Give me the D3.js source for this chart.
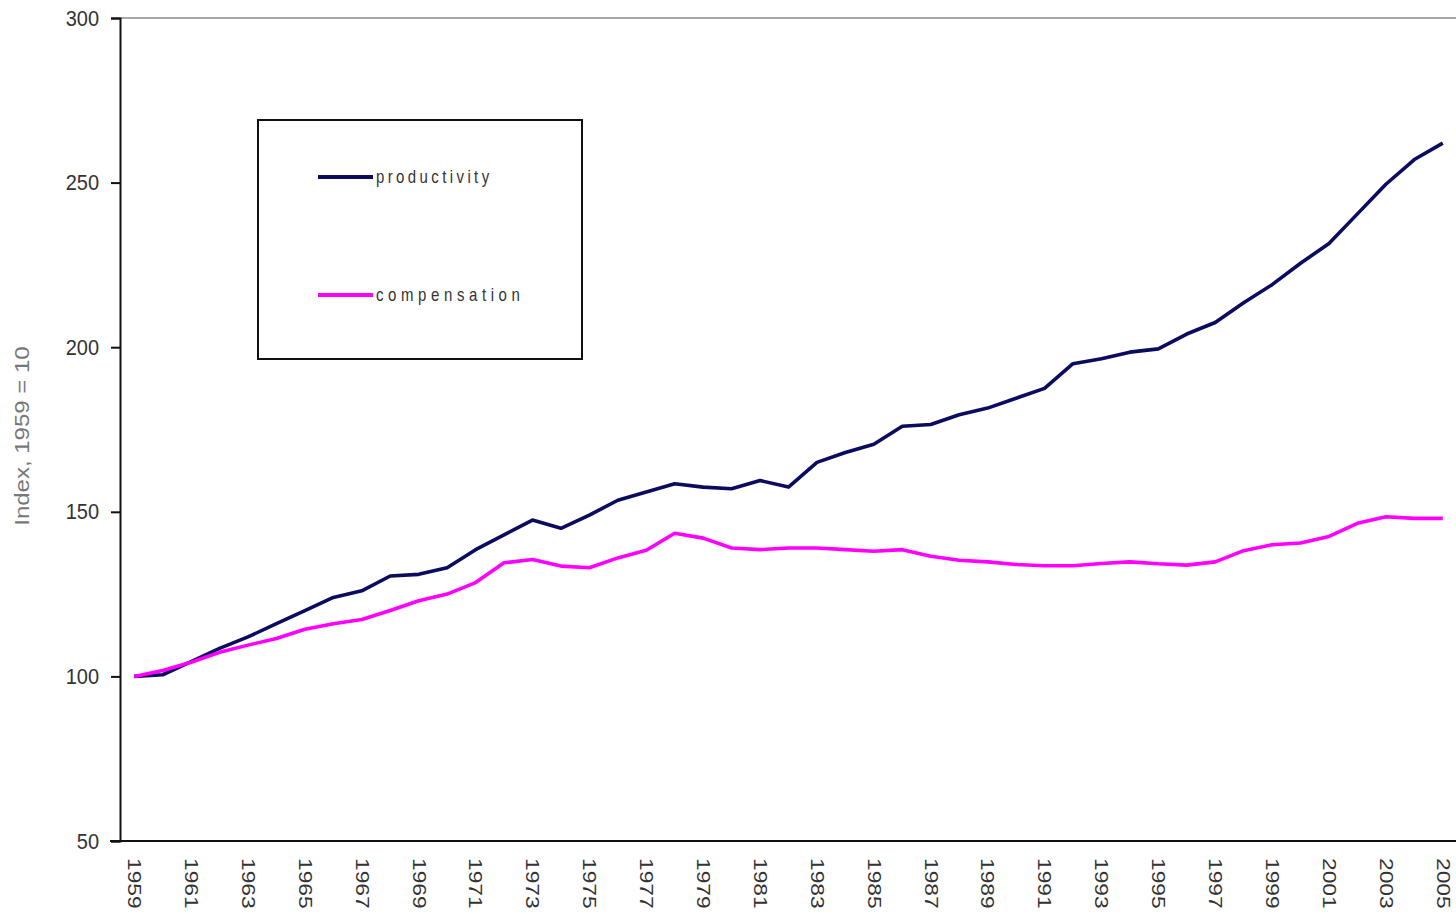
<!DOCTYPE html>
<html>
<head>
<meta charset="utf-8">
<script src="https://cdn.jsdelivr.net/npm/d3@7"></script>
<style>
    body { margin: 0; background: #fff; }
    svg { display: block; font-family: "Liberation Sans", Arial, sans-serif; }
</style>
</head>
<body>
<svg id="chart"></svg>
<script>
// Data
const years = d3.range(1959, 2006);

const productivity = [
    100, 100.5, 104.5, 108.5, 112, 116, 120, 124, 126, 130.5,
    131, 133, 138.5, 143, 147.5, 145, 149, 153.5, 156, 158.5,
    157.5, 157, 159.5, 157.5, 165, 168, 170.5, 176, 176.5, 179.5,
    181.5, 184.5, 187.5, 195, 196.5, 198.5, 199.5, 204, 207.5, 213.5,
    219, 225.5, 231.5, 240.5, 249.5, 257, 262
];

const compensation = [
    100, 101.8, 104.3, 107.3, 109.5, 111.5, 114.3, 116, 117.3, 120,
    123, 125, 128.5, 134.5, 135.5, 133.5, 133, 136, 138.3, 143.5,
    142, 139, 138.5, 139, 139, 138.5, 138, 138.5, 136.5, 135.3,
    134.8, 134, 133.6, 133.6, 134.3, 134.8, 134.2, 133.8, 134.8, 138.2,
    140, 140.5, 142.5, 146.5, 148.5, 148, 148
];

const yTicks = [50, 100, 150, 200, 250, 300];
const xTickYears = years.filter(y => y % 2 === 1);

const seriesNames = ['productivity', 'compensation'];
const seriesColors = ['#0b0b60', '#ff00ff'];

// Layout
const width = 1456;
const height = 914;
const margin = { top: 18, right: -1, bottom: 73, left: 120 };
const innerW = width - margin.left - margin.right;
const innerH = height - margin.top - margin.bottom;
const stretch = 1.2; // text in the reference is a bit taller than wide

const svg = d3.select('#chart')
    .attr('width', width)
    .attr('height', height);

const g = svg.append('g')
    .attr('transform', `translate(${margin.left},${margin.top})`);

const x = d3.scalePoint()
    .domain(years)
    .range([0, innerW])
    .padding(0.5);

const y = d3.scaleLinear()
    .domain([50, 300])
    .range([innerH, 0]);

// Top border (grey)
g.append('line')
    .attr('x1', 0)
    .attr('x2', innerW)
    .attr('y1', y(300))
    .attr('y2', y(300))
    .attr('stroke', '#8a8a8a')
    .attr('stroke-width', 1.6);

// Y axis
const yAxis = g.append('g')
    .call(d3.axisLeft(y).tickValues(yTicks).tickSize(9).tickPadding(12).tickFormat(d3.format('d')));

yAxis.select('.domain').attr('stroke', '#111').attr('stroke-width', 2);
yAxis.selectAll('.tick line').attr('stroke', '#111').attr('stroke-width', 2);
yAxis.selectAll('.tick text')
    .attr('font-size', 20)
    .attr('fill', '#333')
    .attr('transform', `scale(1,1.12)`);

// X axis
const xAxis = g.append('g')
    .attr('transform', `translate(0,${innerH})`)
    .call(d3.axisBottom(x).tickValues(xTickYears).tickSize(0).tickPadding(0));

xAxis.select('.domain')
    .attr('d', `M-10,0H${innerW}`)
    .attr('stroke', '#111')
    .attr('stroke-width', 2.2);

xAxis.selectAll('.tick text')
    .attr('font-size', 19)
    .attr('fill', '#333')
    .attr('text-anchor', 'start')
    .attr('x', 0)
    .attr('y', 0)
    .attr('dy', '0.35em')
    .attr('transform', `translate(0,17) rotate(90) scale(${stretch},1)`);

// Y axis title
svg.append('text')
    .attr('transform', `translate(22,${margin.top + y(173)}) rotate(-90) scale(${stretch},1)`)
    .attr('text-anchor', 'middle')
    .attr('dy', '0.35em')
    .attr('font-size', 20)
    .attr('fill', '#777')
    .text('Index, 1959 = 10');

// Lines
const line = d3.line()
    .x((d, i) => x(years[i]))
    .y(d => y(d));

[productivity, compensation].forEach((series, i) => {
    g.append('path')
        .datum(series)
        .attr('fill', 'none')
        .attr('stroke', seriesColors[i])
        .attr('stroke-width', 3.6)
        .attr('stroke-linejoin', 'round')
        .attr('d', line);
});

// Legend
const legend = svg.append('g')
    .attr('transform', 'translate(258,120)');

legend.append('rect')
    .attr('width', 324)
    .attr('height', 239)
    .attr('fill', '#fff')
    .attr('stroke', '#111')
    .attr('stroke-width', 2);

seriesNames.forEach((name, i) => {
    const row = legend.append('g')
        .attr('transform', `translate(60,${57 + i * 118})`);

    row.append('line')
        .attr('x1', 0)
        .attr('x2', 55)
        .attr('stroke', seriesColors[i])
        .attr('stroke-width', 3.8);

    row.append('text')
        .attr('x', 0)
        .attr('y', 0)
        .attr('transform', `translate(58,0) scale(1,${stretch})`)
        .attr('dy', '0.32em')
        .attr('font-size', 15)
        .attr('letter-spacing', i === 0 ? 3.4 : 4.6)
        .attr('fill', '#333')
        .text(name);
});
</script>
</body>
</html>
